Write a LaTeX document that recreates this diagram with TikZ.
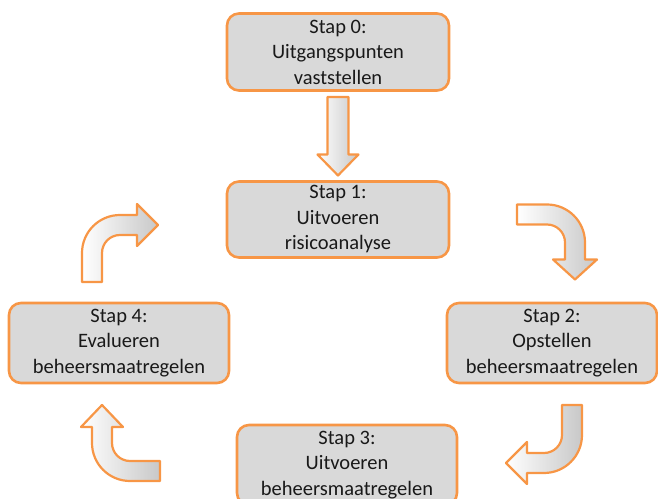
\documentclass[tikz,border=0pt]{standalone}
\usepackage{fontspec}
\setmainfont{Carlito}
\usepackage{tikz}
\usetikzlibrary{positioning,calc}
\definecolor{StepOrange}{RGB}{247,150,70}
\definecolor{StepGray}{RGB}{217,217,217}
\definecolor{ArrowGray}{RGB}{200,200,200}

\begin{document}
\begin{tikzpicture}[x=1pt,y=1pt,
  stepbox/.style={draw=StepOrange,line width=2.6pt,rounded corners=12pt,fill=StepGray,
    minimum width=220pt,minimum height=80pt,inner sep=0pt,outer sep=0pt,align=center,
    font=\fontsize{20.5}{25.5}\selectfont,text=black!90},
  blockarrow/.style={draw=StepOrange,line width=2.2pt,line join=round,
    left color=white,right color=ArrowGray}]
\useasboundingbox (0,0) rectangle (658,498);
% steps
\node[stepbox,minimum width=222pt,minimum height=77pt] (st0) at (338,446) {Stap 0:\\Uitgangspunten\\vaststellen};
\node[stepbox,minimum width=222pt,minimum height=76pt,below=91pt of st0] (st1) {Stap 1:\\Uitvoeren\\risicoanalyse};
\node[stepbox,minimum width=210pt] (st2) at (552,155) {Stap 2:\\Opstellen\\beheersmaatregelen};
\node[stepbox] (st3) at (347,33) {Stap 3:\\Uitvoeren\\beheersmaatregelen};
\node[stepbox] (st4) at (119,155) {Stap 4:\\Evalueren\\beheersmaatregelen};
% arrow ends
\coordinate (a01) at ($(st0.south)+(0,-6.5)$);
\coordinate (b01) at ($(st1.north)+(0,6)$);
\coordinate (a12) at ($(st1.east)+(68,15)$);
\coordinate (a23) at ($(st2.south)+(10,-22)$);
\coordinate (a34) at ($(st3.west)+(-77,-16)$);
\coordinate (a41) at ($(st4.north)+(-17,21)$);
% block arrows
\path[blockarrow] ($(a01)+(-10.5,0)$) -- ($(a01)+(10.5,0)$) -- ($(b01)+(10.5,21)$) -- ($(b01)+(20.5,21)$)
  -- (b01) -- ($(b01)+(-20.5,21)$) -- ($(b01)+(-10.5,21)$) -- cycle;
\path[blockarrow] (a12) -- ++(30,0) arc[start angle=90,end angle=0,radius=38] -- ++(0,-17) -- ++(12,0)
  -- ++(-22,-20) -- ++(-22,20) -- ++(12,0) -- ++(0,17) arc[start angle=0,end angle=90,radius=18] -- ++(-30,0) -- cycle;
\path[blockarrow] (a23) -- ++(20,0) -- ++(0,-30) arc[start angle=0,end angle=-90,radius=38] -- ++(-17,0) -- ++(0,-11)
  -- ++(-21,21) -- ++(21,21) -- ++(0,-11) -- ++(17,0) arc[start angle=-90,end angle=0,radius=18] -- cycle;
\path[blockarrow] (a34) -- ++(-30,0) arc[start angle=-90,end angle=-180,radius=38] -- ++(0,16) -- ++(-11,0)
  -- ++(21,22) -- ++(21,-22) -- ++(-11,0) -- ++(0,-16) arc[start angle=180,end angle=270,radius=18] -- ++(30,0) -- cycle;
\path[blockarrow] (a41) -- ++(-20,0) -- ++(0,29) arc[start angle=180,end angle=90,radius=38] -- ++(17,0) -- ++(0,11)
  -- ++(21,-21) -- ++(-21,-21) -- ++(0,11) -- ++(-17,0) arc[start angle=90,end angle=180,radius=18] -- cycle;
\end{tikzpicture}
\end{document}
